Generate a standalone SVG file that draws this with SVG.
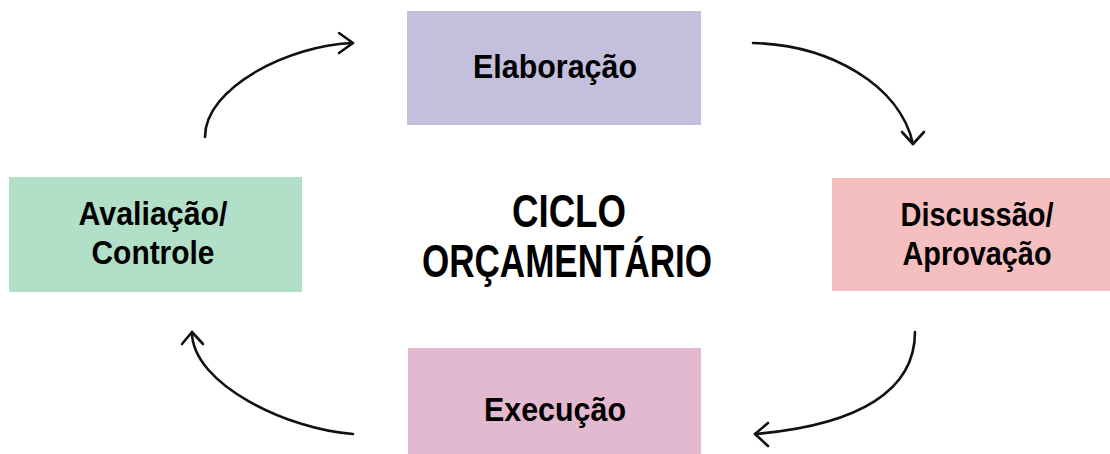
<svg xmlns="http://www.w3.org/2000/svg" width="1110" height="454" viewBox="0 0 1110 454">
<style>
  .lbl { font-family: "Liberation Sans", Arial, sans-serif; font-weight: bold; font-size: 34px; fill: #000; text-anchor: middle; }
  .title { font-family: "Liberation Sans", Arial, sans-serif; font-weight: bold; font-size: 46px; fill: #000; text-anchor: middle; }
  .conn path { fill: none; stroke: #111; stroke-width: 2.6; stroke-linecap: round; stroke-linejoin: round; }
</style>
<rect x="0" y="0" width="1110" height="454" fill="#ffffff"/>
<g id="elaboracao">
  <rect x="407" y="11" width="294" height="114" fill="#c3bfdc"/>
  <text class="lbl" x="555" y="78" textLength="164" lengthAdjust="spacingAndGlyphs">Elaboração</text>
</g>
<g id="discussao">
  <rect x="832" y="178" width="278" height="113" fill="#f6bfbf"/>
  <text class="lbl" x="977" y="226" textLength="153" lengthAdjust="spacingAndGlyphs">Discussão/</text>
  <text class="lbl" x="977" y="265" textLength="149" lengthAdjust="spacingAndGlyphs">Aprovação</text>
</g>
<g id="avaliacao">
  <rect x="9" y="177" width="293" height="115" fill="#b2dfc8"/>
  <text class="lbl" x="153" y="225" textLength="149" lengthAdjust="spacingAndGlyphs">Avaliação/</text>
  <text class="lbl" x="153" y="264" textLength="123" lengthAdjust="spacingAndGlyphs">Controle</text>
</g>
<g id="execucao">
  <rect x="408" y="348" width="293" height="106" fill="#e3b9cf"/>
  <text class="lbl" x="555" y="421" textLength="142" lengthAdjust="spacingAndGlyphs">Execução</text>
</g>
<g id="ciclo">
  <text class="title" x="569" y="227" textLength="114" lengthAdjust="spacingAndGlyphs">CICLO</text>
  <text class="title" x="567" y="277" textLength="290" lengthAdjust="spacingAndGlyphs">ORÇAMENTÁRIO</text>
</g>
<g id="connectors" class="conn">
  <path d="M205,137 C205,87 290,45 353,43"/>
  <path d="M339,33 L353,43 L339,53"/>
  <path d="M753,43 C830,45 900,85 913,144"/>
  <path d="M902,132 L913,144 L924,132"/>
  <path d="M915,332 C915,390 860,425 755,434"/>
  <path d="M768,423 L755,434 L768,446"/>
  <path d="M353,434 C290,430 192,385 192,332"/>
  <path d="M182,344 L192,332 L203,344"/>
</g>
</svg>
